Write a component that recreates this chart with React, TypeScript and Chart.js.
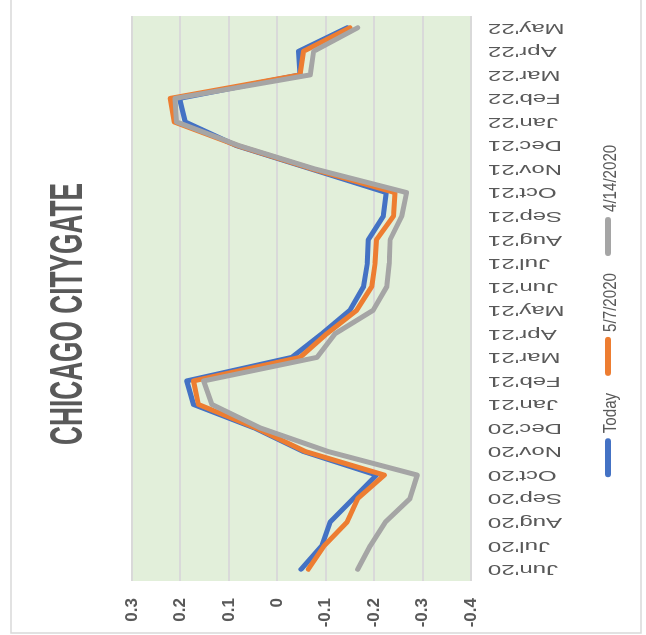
import { useEffect, useRef } from 'react';
import { Chart, registerables } from 'chart.js';

Chart.register(...registerables);

const categories = [
  "Jun'20", "Jul'20", "Aug'20", "Sep'20", "Oct'20", "Nov'20", "Dec'20",
  "Jan'21", "Feb'21", "Mar'21", "Apr'21", "May'21", "Jun'21", "Jul'21",
  "Aug'21", "Sep'21", "Oct'21", "Nov'21", "Dec'21", "Jan'22", "Feb'22",
  "Mar'22", "Apr'22", "May'22",
];

const todayValues = [
  -0.049, -0.092, -0.109, -0.157, -0.205, -0.054, 0.047, 0.173, 0.187, -0.030,
  -0.092, -0.150, -0.178, -0.186, -0.188, -0.219, -0.225, -0.070, 0.085, 0.190,
  0.202, -0.047, -0.044, -0.144,
];

const may7Values = [
  -0.064, -0.097, -0.144, -0.166, -0.221, -0.058, 0.044, 0.163, 0.173, -0.047,
  -0.102, -0.164, -0.195, -0.202, -0.205, -0.240, -0.243, -0.073, 0.083, 0.213,
  0.221, -0.047, -0.054, -0.150,
];

const apr14Values = [
  -0.166, -0.192, -0.223, -0.274, -0.289, -0.105, 0.035, 0.135, 0.152, -0.082,
  -0.119, -0.198, -0.226, -0.231, -0.233, -0.257, -0.267, -0.078, 0.080, 0.208,
  0.211, -0.068, -0.075, -0.166,
];

const seriesNames = ['Today', '5/7/2020', '4/14/2020'];
const seriesColors = ['#4472C4', '#ED7D31', '#A5A5A5'];

const valueTicks = [-0.4, -0.3, -0.2, -0.1, 0, 0.1, 0.2, 0.3];
const valueTickLabels = ['-0.4', '-0.3', '-0.2', '-0.1', '0', '0.1', '0.2', '0.3'];

const chartTitle = 'CHICAGO CITYGATE';

// unrotated canvas size (the chart is shown rotated 90deg counter-clockwise)
const CW = 635;
const CH = 646;
const TEXT = '#595959';
const FONT = '"Liberation Sans", Arial, sans-serif';

export default function App() {
  const ref = useRef<HTMLCanvasElement>(null);

  useEffect(() => {
    const canvas = ref.current;
    if (!canvas) return;

    const decor = {
      id: 'decor',
      beforeDraw(chart: any) {
        const { ctx, chartArea } = chart;
        const { left, top, right, bottom } = chartArea;
        ctx.save();
        ctx.fillStyle = '#E2EFDA';
        ctx.fillRect(left, top, right - left, bottom - top);
        ctx.strokeStyle = '#D9D9D9';
        ctx.lineWidth = 1.5;
        ctx.strokeRect(2, 11, 800, 630);
        ctx.restore();
      },
      afterDraw(chart: any) {
        const { ctx } = chart;
        // title
        ctx.save();
        ctx.font = `bold 47px ${FONT}`;
        ctx.fillStyle = TEXT;
        const tw = ctx.measureText(chartTitle).width;
        ctx.translate(321, 82);
        ctx.scale(262 / tw, 1);
        ctx.textAlign = 'center';
        ctx.textBaseline = 'alphabetic';
        ctx.fillText(chartTitle, 0, 0);
        ctx.restore();

        // category labels
        const xs = chart.scales.x;
        ctx.save();
        ctx.font = `15px ${FONT}`;
        ctx.fillStyle = TEXT;
        categories.forEach((c, i) => {
          ctx.save();
          ctx.translate(xs.getPixelForValue(i), 488);
          ctx.rotate(-Math.PI / 2);
          ctx.scale(1.6, 1);
          ctx.textAlign = 'right';
          ctx.textBaseline = 'middle';
          ctx.fillText(c, 0, 0);
          ctx.restore();
        });
        ctx.restore();

        // legend
        ctx.save();
        ctx.font = `18px ${FONT}`;
        const sx = 0.84;
        const markLen = 33;
        const cap = 3;
        const gapText = 5;
        const gapItem = 17;
        const widths = seriesNames.map((n) => ctx.measureText(n).width * sx);
        let total = 0;
        widths.forEach((w, i) => {
          total += cap * 2 + markLen + gapText + w + (i < widths.length - 1 ? gapItem : 0);
        });
        let u = 324 - total / 2;
        seriesNames.forEach((n, i) => {
          ctx.strokeStyle = seriesColors[i];
          ctx.lineWidth = 6;
          ctx.lineCap = 'round';
          ctx.beginPath();
          ctx.moveTo(u + cap, 608);
          ctx.lineTo(u + cap + markLen, 608);
          ctx.stroke();
          const tx = u + cap * 2 + markLen + gapText;
          ctx.save();
          ctx.fillStyle = TEXT;
          ctx.translate(tx, 616);
          ctx.scale(sx, 1);
          ctx.textAlign = 'left';
          ctx.textBaseline = 'alphabetic';
          ctx.fillText(n, 0, 0);
          ctx.restore();
          u = tx + widths[i] + gapItem;
        });
        ctx.restore();
      },
    };

    const valueSets = [todayValues, may7Values, apr14Values];

    const chart = new Chart(canvas, {
      type: 'line',
      data: {
        labels: categories,
        datasets: valueSets.map((vals, i) => ({
          label: seriesNames[i],
          data: vals,
          borderColor: seriesColors[i],
          backgroundColor: seriesColors[i],
          borderWidth: 5,
          borderJoinStyle: 'round' as const,
          borderCapStyle: 'round' as const,
          pointRadius: 0,
          pointHoverRadius: 0,
          tension: 0,
          fill: false,
          order: 2 - i,
        })),
      },
      options: {
        responsive: false,
        maintainAspectRatio: false,
        animation: false,
        layout: { padding: { top: 132, right: 16, left: 0, bottom: 0 } },
        plugins: {
          legend: { display: false },
          title: { display: false },
          tooltip: { enabled: false },
        },
        events: [],
        scales: {
          x: {
            type: 'category',
            offset: true,
            grid: { display: false },
            border: { display: false },
            ticks: { display: false },
            afterFit: (s: any) => {
              s.height = 175;
            },
          },
          y: {
            min: -0.4,
            max: 0.3,
            afterBuildTicks: (axis: any) => {
              axis.ticks = valueTicks.map((value) => ({ value }));
            },
            ticks: {
              padding: 17,
              color: TEXT,
              font: { family: FONT, size: 17, weight: 'bold' },
              callback: (_v: any, index: number) => valueTickLabels[index],
            },
            grid: { color: '#D9D9D9', lineWidth: 2, drawTicks: false },
            border: { display: false },
            afterFit: (s: any) => {
              s.width = 54;
            },
          },
        },
      } as any,
      plugins: [decor],
    });

    return () => chart.destroy();
  }, []);

  return (
    <div
      style={{
        position: 'fixed',
        left: 0,
        top: 0,
        width: 646,
        height: 635,
        overflow: 'hidden',
        background: '#fff',
      }}
    >
      <div
        style={{
          position: 'absolute',
          left: 0,
          top: 0,
          width: CW,
          height: CH,
          transformOrigin: '0 0',
          transform: `translateY(${CW}px) rotate(-90deg)`,
        }}
      >
        <canvas ref={ref} width={CW} height={CH} style={{ display: 'block', width: CW, height: CH }} />
      </div>
    </div>
  );
}
